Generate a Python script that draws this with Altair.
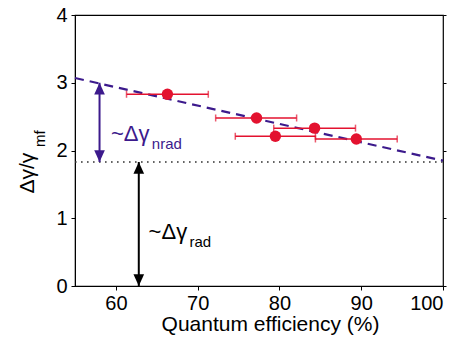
import altair as alt
import pandas as pd

# ---- data ----
qe = [66.3, 77.2, 79.5, 84.3, 89.4]
ratio = [2.83, 2.48, 2.21, 2.33, 2.17]
qe_lo = [61.3, 72.2, 74.6, 79.3, 84.4]
qe_hi = [71.3, 82.1, 84.4, 89.3, 94.4]

fit_x = [55, 100]
fit_y = [3.07, 1.85]

rad_level = 1.83
x_range = [55, 100]

nrad_arrow_x = 58.0
nrad_arrow_top = 3.0
rad_arrow_x = 62.8

ann_text = ["~Δγ", "nrad", "~Δγ", "rad"]
ann_x = [59.4, 64.4, 64.0, 69.0]
ann_y = [2.14, 2.02, 0.69, 0.57]
ann_size = [22, 15, 22, 15]
ann_color = ["#3c1a8c", "#3c1a8c", "#000000", "#000000"]

PURPLE = "#3c1a8c"
RED = "#e3122f"
FONT = "Liberation Sans"

pts = pd.DataFrame({"qe": qe, "ratio": ratio, "lo": qe_lo, "hi": qe_hi})
fit = pd.DataFrame({"qe": fit_x, "ratio": fit_y})
dot = pd.DataFrame({"qe": x_range, "ratio": [rad_level, rad_level]})
arrows = pd.DataFrame({
    "x": [nrad_arrow_x, rad_arrow_x],
    "y1": [nrad_arrow_top, rad_level],
    "y2": [rad_level, 0.0],
    "c": [PURPLE, "#000000"],
})
heads = pd.DataFrame({
    "x": [nrad_arrow_x, nrad_arrow_x, rad_arrow_x, rad_arrow_x],
    "y": [nrad_arrow_top, rad_level, rad_level, 0.0],
    "dir": ["up", "down", "up", "down"],
    "c": [PURPLE, PURPLE, "#000000", "#000000"],
})
ann = pd.DataFrame({"t": ann_text, "x": ann_x, "y": ann_y, "s": ann_size, "c": ann_color})

xs = alt.Scale(domain=x_range, nice=False)
ys = alt.Scale(domain=[0, 4], nice=False)

x_axis = alt.Axis(
    values=[60, 70, 80, 90, 100], title="Quantum efficiency (%)", grid=False,
    labelFont=FONT, labelFontSize=20, labelColor="black", labelPadding=3,
    tickSize=4, tickColor="black", domainColor="black",
    titleFont=FONT, titleFontSize=21, titleFontWeight="normal", titleColor="black",
    titleX=195, titleY=44, titleBaseline="alphabetic", titleAnchor="start", titleAlign="center",
)
y_axis = alt.Axis(
    values=[0, 1, 2, 3, 4], title="Δγ/γ", grid=False,
    labelFont=FONT, labelFontSize=20, labelColor="black", labelPadding=4,
    tickSize=4, tickColor="black", domainColor="black",
    titleFont=FONT, titleFontSize=21, titleFontWeight="normal", titleColor="black",
    titleAngle=270, titleX=-42, titleY=178, titleAlign="left", titleBaseline="alphabetic",
)

X = lambda f: alt.X(f, type="quantitative", scale=xs, axis=x_axis)
Y = lambda f: alt.Y(f, type="quantitative", scale=ys, axis=y_axis)

fit_line = alt.Chart(fit).mark_line(color=PURPLE, strokeWidth=2.2, strokeDash=[9, 6]).encode(
    x=X("qe"), y=Y("ratio"))
dot_line = alt.Chart(dot).mark_line(color="#333333", strokeWidth=1.6, strokeDash=[1.6, 4.4]).encode(
    x=X("qe"), y=Y("ratio"))

err = alt.Chart(pts).mark_rule(color=RED, strokeWidth=1.5).encode(
    x=X("lo"), x2="hi", y=Y("ratio"))
cap_lo = alt.Chart(pts).mark_tick(color=RED, thickness=1.5, size=7, orient="vertical").encode(
    x=X("lo"), y=Y("ratio"))
cap_hi = alt.Chart(pts).mark_tick(color=RED, thickness=1.5, size=7, orient="vertical").encode(
    x=X("hi"), y=Y("ratio"))
dots = alt.Chart(pts).mark_circle(color=RED, size=130, opacity=1).encode(
    x=X("qe"), y=Y("ratio"))

arrow_lines = alt.Chart(arrows).mark_rule(strokeWidth=2).encode(
    x=X("x"), y=Y("y1"), y2="y2", color=alt.Color("c:N", scale=None))
head_up = alt.Chart(heads).transform_filter("datum.dir == 'up'").mark_point(
    shape="M0,0 L-0.45,1 L0.45,1 Z", size=560, filled=True, opacity=1).encode(
    x=X("x"), y=Y("y"), color=alt.Color("c:N", scale=None))
head_down = alt.Chart(heads).transform_filter("datum.dir == 'down'").mark_point(
    shape="M0,0 L-0.45,-1 L0.45,-1 Z", size=560, filled=True, opacity=1).encode(
    x=X("x"), y=Y("y"), color=alt.Color("c:N", scale=None))

labels = alt.Chart(ann).mark_text(font=FONT, align="left", baseline="alphabetic").encode(
    x=X("x"), y=Y("y"), text="t:N", size=alt.Size("s:Q", scale=None),
    color=alt.Color("c:N", scale=None))

ysub = alt.Chart(pd.DataFrame({"t": ["mf"]})).mark_text(
    font=FONT, fontSize=15, angle=270, align="left", baseline="alphabetic", color="black").encode(
    x=alt.value(-30), y=alt.value(132), text="t:N")

right_axis = alt.Chart(pd.DataFrame({"ratio": [0, 4]})).mark_point(opacity=0).encode(
    y=alt.Y("ratio:Q", scale=ys, axis=alt.Axis(orient="right", values=[0, 1, 2, 3, 4], labels=False,
                                                 title=None, tickSize=3, tickColor="black",
                                                 domain=False, grid=False)))

main = alt.layer(dot_line, fit_line, err, cap_lo, cap_hi, dots, arrow_lines, head_up, head_down,
                 labels, ysub)

chart = alt.layer(main, right_axis).resolve_axis(y="independent").properties(
    width=368, height=271,
    autosize=alt.AutoSizeParams(type="none"),
    padding={"left": 75, "top": 15, "right": 21, "bottom": 53},
    background="white",
).configure_view(stroke="black", strokeWidth=1.2)

chart.save("out.html", embed_options={"renderer": "svg", "actions": False})
